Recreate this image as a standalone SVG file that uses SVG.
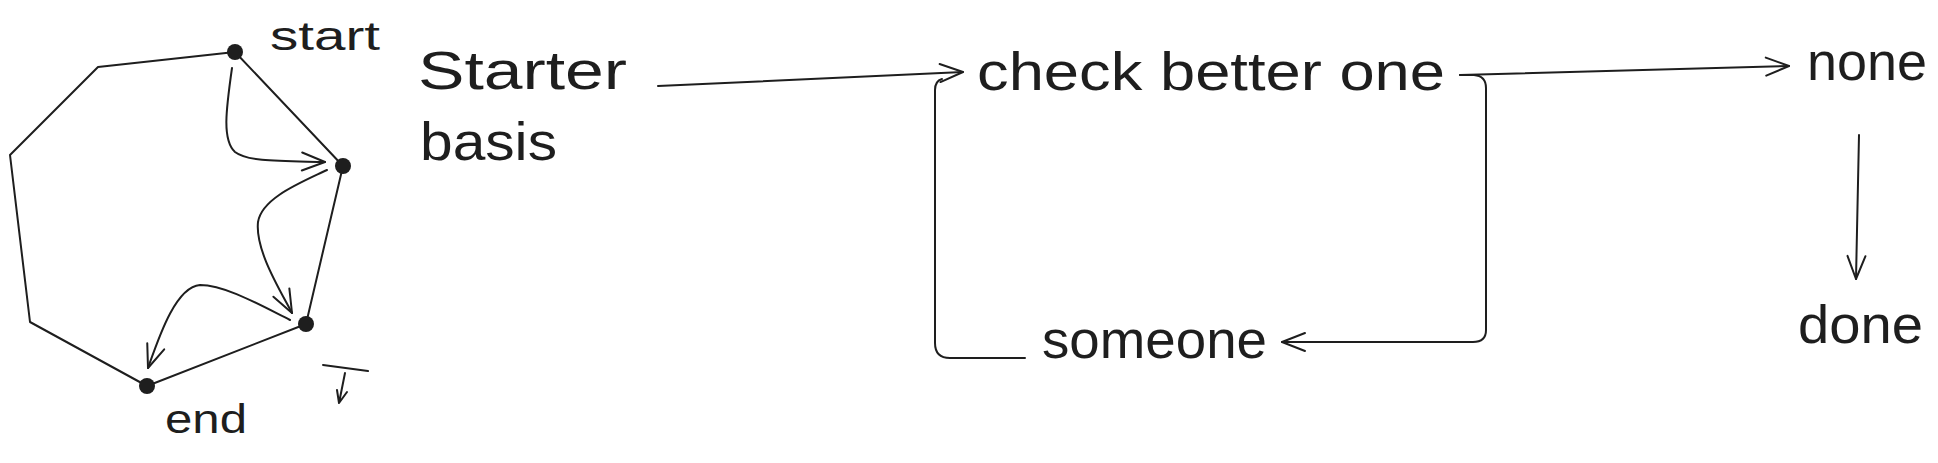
<svg xmlns="http://www.w3.org/2000/svg" width="1938" height="463" viewBox="0 0 1938 463">
<style>
.ln{fill:none;stroke:#1e1e1e;stroke-width:2;stroke-linecap:round;stroke-linejoin:round}
.dot{fill:#1e1e1e}
.t{font-family:"Liberation Sans",Arial,sans-serif;fill:#1e1e1e}
.big{font-size:54px}
.sm{font-size:40px}
</style>
<defs>
<marker id="ah" markerUnits="userSpaceOnUse" markerWidth="40" markerHeight="40" viewBox="-30 -15 40 30" refX="0" refY="0" orient="auto" overflow="visible">
<path d="M-23,-9 L0,0 L-23,9" fill="none" stroke="#1e1e1e" stroke-width="2" stroke-linecap="round" stroke-linejoin="round"/>
</marker>
</defs>
<rect width="1938" height="463" fill="#ffffff"/>
<g id="polygon">
<path class="ln" d="M235,52 L98,67 L10,155 L30,322 L147,386 L306,324 L343,166 Z"/>
</g>
<g id="node-start"><circle class="dot" cx="235" cy="52" r="8"/><text class="t sm" x="270" y="50" textLength="110" lengthAdjust="spacingAndGlyphs">start</text></g>
<g id="node-p2"><circle class="dot" cx="343" cy="166" r="8"/></g>
<g id="node-p3"><circle class="dot" cx="306" cy="324" r="8"/></g>
<g id="node-end"><circle class="dot" cx="147" cy="386" r="8"/><text class="t sm" x="165" y="433" textLength="82" lengthAdjust="spacingAndGlyphs">end</text></g>
<g id="mark">
<path class="ln" d="M323,365 L368,371"/>
<path class="ln" d="M345,373 L339,403 M337,390 L339,403 L347,392"/>
</g>
<g id="node-starter"><text class="t big" x="418" y="89" textLength="209" lengthAdjust="spacingAndGlyphs">Starter</text><text class="t big" x="420" y="160" textLength="137" lengthAdjust="spacingAndGlyphs">basis</text></g>
<g id="node-check"><text class="t big" x="977" y="90" textLength="468" lengthAdjust="spacingAndGlyphs">check better one</text></g>
<g id="node-someone"><text class="t big" x="1042" y="358" textLength="225" lengthAdjust="spacingAndGlyphs">someone</text></g>
<g id="node-none"><text class="t big" x="1807" y="80" textLength="120" lengthAdjust="spacingAndGlyphs">none</text></g>
<g id="node-done"><text class="t big" x="1798" y="343" textLength="125" lengthAdjust="spacingAndGlyphs">done</text></g>
<g id="connectors">
<path class="ln" marker-end="url(#ah)" d="M232,68 C226,110 222,140 235,152 C248,162 280,161 325,162"/>
<path class="ln" marker-end="url(#ah)" d="M327,170 C300,183 262,198 258,222 C255,250 280,290 292,313"/>
<path class="ln" marker-end="url(#ah)" d="M290,320 C260,305 225,285 200,285 C175,287 158,340 148,368"/>
<path class="ln" marker-end="url(#ah)" d="M658,86 L963,72"/>
<path class="ln" d="M1025,358 L950,358 Q935,358 935,343 L935,90 Q935,81 942,79"/>
<path class="ln" marker-end="url(#ah)" d="M1460,75 L1789,66"/>
<path class="ln" marker-end="url(#ah)" d="M1460,75 L1474,75 Q1486,76 1486,88 L1486,330 Q1486,342 1473,342 L1282,342"/>
<path class="ln" marker-end="url(#ah)" d="M1859,135 L1856,279"/>
</g>
</svg>
